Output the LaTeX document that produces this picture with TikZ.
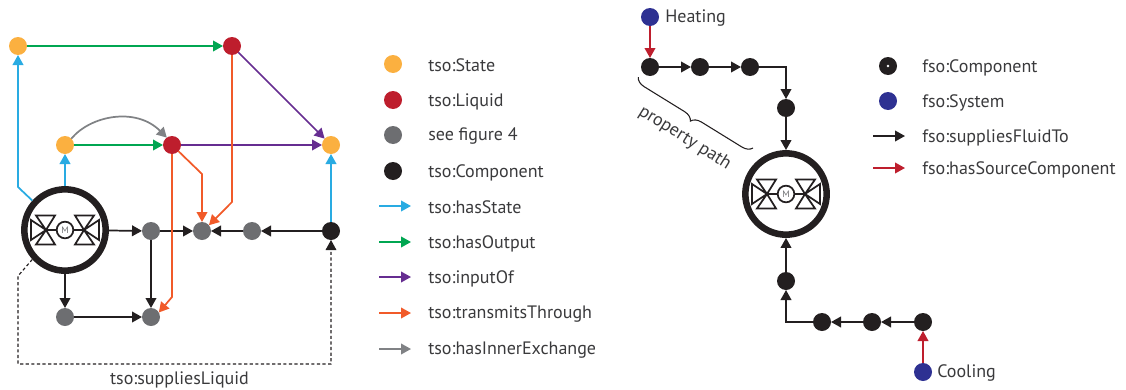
\documentclass[tikz,border=0pt]{standalone}
\usepackage{fontspec}
\setmainfont{PT Sans}
\usetikzlibrary{arrows.meta,calc,decorations.pathreplacing}
\definecolor{cstate}{HTML}{FBB040}
\definecolor{cliquid}{HTML}{BE1E2D}
\definecolor{cgrey}{HTML}{6D6E71}
\definecolor{cblack}{HTML}{231F20}
\definecolor{csystem}{HTML}{2E3192}
\definecolor{chasstate}{HTML}{29ABE2}
\definecolor{choutput}{HTML}{00A651}
\definecolor{cinput}{HTML}{662D91}
\definecolor{ctrans}{HTML}{F15A29}
\definecolor{cinner}{HTML}{808285}
\definecolor{ctext}{HTML}{3A3A3C}
\tikzset{
  dot/.style={circle,fill=#1,minimum size=13.5pt,inner sep=0pt,outer sep=0pt},
  flow/.style={draw=#1,line width=1.3pt,-{Triangle[length=7.5pt,width=8pt]}},
  flow/.default=cblack,
  machine/.style={circle,draw=cblack,fill=white,line width=4.9pt,minimum size=61pt,inner sep=0pt,outer sep=2.45pt},
  lab/.style={text=ctext,font=\fontsize{13.5pt}{15pt}\selectfont,inner sep=0pt,yshift=-1.1pt},
  pumpsym/.pic={
    \draw [cblack,line width=1.3pt,line join=miter]
      (-29,-14.5) -- (-10,-14.5) -- (-19,0) -- cycle
      (-29,14.5) -- (-10,14.5) -- (-19,0) -- cycle
      (-34,-10) -- (-34,10) -- (-19,0) -- cycle
      (29,-14.5) -- (10,-14.5) -- (19,0) -- cycle
      (29,14.5) -- (10,14.5) -- (19,0) -- cycle
      (34,-10) -- (34,10) -- (19,0) -- cycle
      (-19,0) -- (19,0);
    \node [circle,draw=cblack,fill=white,line width=1.3pt,minimum size=12.5pt,inner sep=0pt,text=cgrey,font=\fontsize{7pt}{7pt}\selectfont] (-m) {M};
  }
}
\begin{document}
\begin{tikzpicture}[x=0.75pt,y=-0.75pt]
\useasboundingbox (0,0) rectangle (1126,389);

\node [machine] (mainL) at (65,230) {};
\pic (pumpL) at (mainL) {pumpsym};
\node [dot=cstate] (stA) at (18,46) {};
\node [dot=cliquid] (liqA) at (232,46) {};
\node [dot=cstate] (stB) at (65,145) {};
\node [dot=cliquid] (liqB) at (172,145) {};
\node [dot=cstate] (stC) at (331,145) {};
\node [dot=cblack] (compC) at (331,231) {};
\node [dot=cgrey] (g1) at (151,231) {};
\node [dot=cgrey] (g2) at (202,231) {};
\node [dot=cgrey] (g3) at (252,231) {};
\node [dot=cgrey] (g4) at (65,317) {};
\node [dot=cgrey] (g5) at (151,317) {};
\node [lab] (supl) at (179.5,378) {tso:suppliesLiquid};

\draw [flow=chasstate] (mainL.138) -- (18,187) -- (stA);
\draw [flow=chasstate] (mainL) -- (stB);
\draw [flow=chasstate] (compC) -- (stC);
\draw [flow=choutput] (stA) -- (liqA);
\draw [flow=choutput] (stB) -- (liqB);
\draw [flow=cinput] (liqA) -- (stC);
\draw [flow=cinput] (liqB) -- (stC);
\draw [flow=cinner] (stB.45) .. controls +(19,-23) and +(-31,-31) .. (liqB.125);
\draw [flow] (mainL) -- (g1);
\draw [flow] (g1) -- (g2);
\draw [flow] (g3) -- (g2);
\draw [flow] (compC) -- (g3);
\draw [flow] (mainL) -- (g4);
\draw [flow] (g4) -- (g5);
\draw [flow] (g1) -- (g5);
\draw [flow=ctrans] (liqA) -- (232,202) -- (g2.40);
\draw [flow=ctrans] (liqB) -- (202,174) -- (g2);
\draw [flow=ctrans] (liqB) -- (172,297) -- (g5.30);
\draw [draw=cblack,line width=0.85pt,dash pattern=on 2.4pt off 1.8pt,-{Triangle[length=7.5pt,width=8pt]}]
  (mainL.222) -- (18,276) -- (18,364) -- (331,364) -- (compC);

\foreach \yy/\cc/\tt in {64/cstate/tso:State,100/cliquid/tso:Liquid,135/cgrey/see figure 4,171/cblack/tso:Component}{
  \node [dot=\cc] (keyL\yy) at (393,\yy) {};
  \node [lab,anchor=west] (txtL\yy) at (428,\yy) {\tt};
}
\foreach \yy/\cc/\tt in {206/chasstate/tso:hasState,242/choutput/tso:hasOutput,277/cinput/tso:inputOf,313/ctrans/tso:transmitsThrough,349/cinner/tso:hasInnerExchange}{
  \coordinate (keyL\yy) at (379,\yy);
  \node [lab,anchor=west] (txtL\yy) at (428,\yy) {\tt};
  \draw [flow=\cc] (keyL\yy) -- +(32,0);
}

\node [machine] (mainR) at (786,194) {};
\pic (pumpR) at (mainR) {pumpsym};
\node [dot=csystem] (heat) at (650,17) {};
\node [lab,anchor=west] (heatT) at (665,17) {Heating};
\node [dot=cblack] (h1) at (650,67) {};
\node [dot=cblack] (h2) at (700,67) {};
\node [dot=cblack] (h3) at (750,67) {};
\node [dot=cblack] (h4) at (786,108) {};
\node [dot=cblack] (c1) at (786,281) {};
\node [dot=cblack] (c2) at (822,322) {};
\node [dot=cblack] (c3) at (872,322) {};
\node [dot=cblack] (c4) at (923,322) {};
\node [dot=csystem] (cool) at (923,372) {};
\node [lab,anchor=west] (coolT) at (937,372) {Cooling};

\draw [flow=cliquid] (heat) -- (h1);
\draw [flow] (h1) -- (h2);
\draw [flow] (h2) -- (h3);
\draw [flow] (h3) -| (h4);
\draw [flow] (h4) -- (mainR);
\draw [flow=cliquid] (cool) -- (c4);
\draw [flow] (c4) -- (c3);
\draw [flow] (c3) -- (c2);
\draw [flow] (c2) -| (c1);
\draw [flow] (c1) -- (mainR);

\coordinate (brA) at (753,148);
\coordinate (brB) at (638,77);
\draw [cblack,line width=0.8pt,decorate,decoration={brace,amplitude=7.5pt}] (brA) -- (brB);
\node [lab,rotate=-32,yshift=1.1pt] (ppath) at (684,138) {property path};

\node [dot=cblack] (keyR66) at (888,66) {};
\node [circle,fill=white,minimum size=2pt,inner sep=0pt] (keyRc) at (keyR66) {};
\node [dot=csystem] (keyR101) at (888,101) {};
\node [lab,anchor=west] (txtR66) at (922,66) {fso:Component};
\node [lab,anchor=west] (txtR101) at (922,101) {fso:System};
\coordinate (keyR136) at (873,136);
\coordinate (keyR168) at (873,168);
\node [lab,anchor=west] (txtR136) at (922,136) {fso:suppliesFluidTo};
\node [lab,anchor=west] (txtR168) at (922,168) {fso:hasSourceComponent};
\draw [flow] (keyR136) -- +(32,0);
\draw [flow=cliquid] (keyR168) -- +(32,0);
\end{tikzpicture}
\end{document}
